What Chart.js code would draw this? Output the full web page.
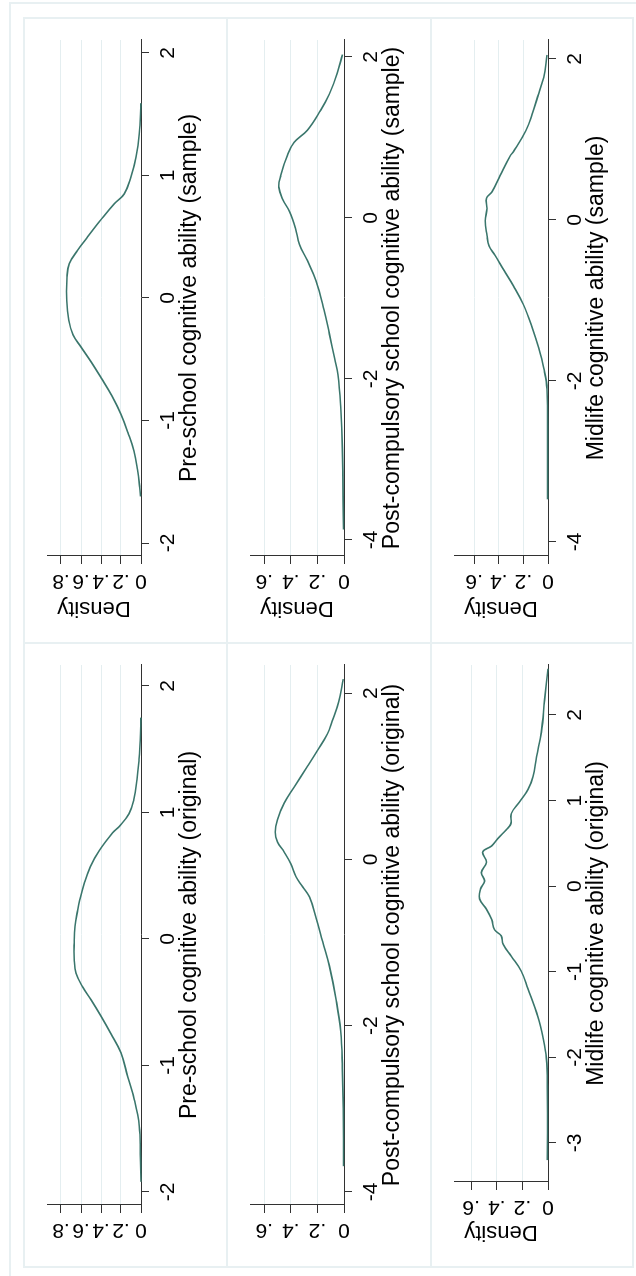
<!DOCTYPE html>
<html>
<head>
<meta charset="utf-8">
<script src="https://cdn.jsdelivr.net/npm/chart.js@4.4.1/dist/chart.umd.min.js"></script>
<style>
  html, body { margin: 0; padding: 0; background: #fff; overflow: hidden; width: 636px; height: 1276px; }
  /* the combined figure is laid out landscape and turned a quarter turn */
  #sheet { position: absolute; left: 0; top: 0; width: 1276px; height: 636px; background: #fff;
           transform-origin: 0 0; transform: translate(0, 1276px) rotate(-90deg); }
  .rule { position: absolute; background: rgb(232, 240, 242); }
  .panel { position: absolute; width: 624px; height: 204px; }
</style>
</head>
<body>
<div id="sheet"></div>
<script>
// ---- kernel density estimates (ability value, density) ----
const preOrigAbility = [-1.92, -1.70, -1.48, -1.27, -1.09, -0.90, -0.75, -0.61, -0.48, -0.38, -0.27, -0.17, -0.03, 0.10, 0.23, 0.31, 0.44, 0.57, 0.70, 0.84, 0.89, 0.99, 1.10, 1.26, 1.42, 1.57, 1.75];
const preOrigDensity = [0.000, 0.006, 0.017, 0.067, 0.133, 0.200, 0.300, 0.400, 0.500, 0.583, 0.650, 0.667, 0.668, 0.660, 0.633, 0.612, 0.567, 0.507, 0.417, 0.283, 0.217, 0.120, 0.073, 0.040, 0.020, 0.007, 0.001];

const preSampAbility = [-1.62, -1.55, -1.40, -1.25, -1.10, -0.95, -0.80, -0.65, -0.52, -0.40, -0.30, -0.18, -0.02, 0.17, 0.28, 0.39, 0.50, 0.64, 0.77, 0.85, 0.99, 1.15, 1.34, 1.59];
const preSampDensity = [0.005, 0.012, 0.035, 0.070, 0.130, 0.200, 0.290, 0.400, 0.500, 0.600, 0.680, 0.723, 0.743, 0.740, 0.717, 0.633, 0.533, 0.400, 0.267, 0.167, 0.100, 0.050, 0.017, 0.001];

const postOrigAbility = [-3.69, -3.00, -2.51, -2.07, -1.68, -1.28, -0.99, -0.70, -0.45, -0.33, -0.21, -0.05, 0.09, 0.21, 0.33, 0.48, 0.68, 0.87, 1.12, 1.31, 1.51, 1.66, 1.90, 2.17];
const postOrigDensity = [0.004, 0.005, 0.012, 0.025, 0.060, 0.110, 0.160, 0.210, 0.260, 0.310, 0.360, 0.400, 0.450, 0.500, 0.517, 0.500, 0.450, 0.375, 0.275, 0.200, 0.125, 0.090, 0.040, 0.005];

const postSampAbility = [-3.87, -2.86, -2.35, -1.95, -1.75, -1.44, -1.14, -0.78, -0.53, -0.33, -0.13, 0.08, 0.23, 0.38, 0.53, 0.78, 0.94, 1.09, 1.34, 1.54, 1.80, 2.03];
const postSampDensity = [0.004, 0.012, 0.025, 0.045, 0.070, 0.110, 0.150, 0.210, 0.275, 0.335, 0.365, 0.410, 0.460, 0.490, 0.475, 0.425, 0.375, 0.275, 0.175, 0.110, 0.050, 0.012];

const midOrigAbility = [-3.20, -2.34, -2.01, -1.77, -1.53, -1.20, -0.99, -0.82, -0.68, -0.58, -0.51, -0.39, -0.27, -0.15, -0.03, 0.06, 0.16, 0.28, 0.40, 0.47, 0.56, 0.66, 0.73, 0.85, 0.99, 1.13, 1.28, 1.51, 1.80, 2.18, 2.54];
const midOrigDensity = [0.005, 0.005, 0.013, 0.039, 0.078, 0.156, 0.210, 0.286, 0.350, 0.365, 0.417, 0.440, 0.480, 0.534, 0.526, 0.495, 0.520, 0.480, 0.510, 0.440, 0.390, 0.325, 0.290, 0.286, 0.220, 0.156, 0.117, 0.090, 0.052, 0.026, 0.000];

const midSampAbility = [-3.47, -2.86, -2.10, -1.84, -1.59, -1.33, -1.05, -0.82, -0.62, -0.44, -0.32, -0.19, -0.01, 0.14, 0.27, 0.35, 0.55, 0.80, 0.85, 1.11, 1.31, 1.57, 1.77, 2.05];
const midSampDensity = [0.003, 0.003, 0.008, 0.035, 0.076, 0.130, 0.200, 0.280, 0.360, 0.430, 0.480, 0.496, 0.510, 0.496, 0.500, 0.455, 0.390, 0.306, 0.280, 0.180, 0.130, 0.076, 0.035, 0.008];

// ---- axis ticks and labels ----
const preTicks = [-2, -1, 0, 1, 2];
const preTickLabels = ['-2', '-1', '0', '1', '2'];
const postTicks = [-4, -2, 0, 2];
const postTickLabels = ['-4', '-2', '0', '2'];
const midOrigTicks = [-3, -2, -1, 0, 1, 2];
const midOrigTickLabels = ['-3', '-2', '-1', '0', '1', '2'];
const midSampTicks = [-4, -2, 0, 2];
const midSampTickLabels = ['-4', '-2', '0', '2'];
const densityTicksWide = [0, 0.2, 0.4, 0.6, 0.8];
const densityLabelsWide = ['0', '.2', '.4', '.6', '.8'];
const densityTicks = [0, 0.2, 0.4, 0.6];
const densityLabels = ['0', '.2', '.4', '.6'];

const FONT = "'Liberation Sans', Arial, sans-serif";
const CURVE = 'rgb(58, 118, 108)';
const GRID = 'rgb(228, 238, 240)';
const AXIS = 'rgb(50, 50, 50)';

const sheet = document.getElementById('sheet');

function rule(x, y, w, h) {
  const d = document.createElement('div');
  d.className = 'rule';
  Object.assign(d.style, { left: x + 'px', top: y + 'px', width: w + 'px', height: h + 'px' });
  sheet.appendChild(d);
}

// outer frame and panel frames
rule(-20, 9, 1293, 2);
rule(1272, 9, 2, 700);
[23, 226, 430, 632].forEach(y => rule(8, y, 1251, 2));
[8, 632, 1257].forEach(x => rule(x, 24, 2, 609));

function zip(xs, ys) { return xs.map((x, i) => ({ x: x, y: ys[i] })); }

function panel(p) {
  const c = document.createElement('canvas');
  c.className = 'panel';
  c.width = 624; c.height = 204;
  c.style.left = p.left + 'px';
  c.style.top = p.top + 'px';
  sheet.appendChild(c);

  new Chart(c, {
    type: 'scatter',
    data: {
      datasets: [{
        data: zip(p.ability, p.density),
        showLine: true,
        borderColor: CURVE,
        borderWidth: 1.6,
        pointRadius: 0,
        tension: 0.4,
        fill: false,
        clip: false
      }]
    },
    options: {
      responsive: false,
      animation: false,
      events: [],
      layout: { autoPadding: false, padding: { left: 0, top: 23, right: p.padRight, bottom: 0 } },
      plugins: { legend: { display: false }, tooltip: { enabled: false } },
      scales: {
        x: {
          type: 'linear', position: 'bottom', min: p.xMin, max: p.xMax,
          afterBuildTicks: s => { s.ticks = p.xTicks.map(v => ({ value: v })); },
          afterFit: s => { s.height = 87; },
          grid: { drawOnChartArea: false, drawTicks: true, tickLength: 8, tickColor: AXIS, tickWidth: 1 },
          border: { display: true, color: AXIS, width: 1 },
          ticks: {
            autoSkip: false, minRotation: 0, maxRotation: 0, padding: 7, color: '#000',
            font: { family: FONT, size: 21 },
            callback: (v, i) => p.xLabels[i]
          },
          title: {
            display: true, text: p.title, color: '#000',
            font: { family: FONT, size: 23 }, padding: { top: 0, bottom: 25 }
          }
        },
        y: {
          type: 'linear', position: 'left', min: 0, max: p.yMax,
          afterBuildTicks: s => { s.ticks = p.yTicks.map(v => ({ value: v })); },
          afterFit: s => { s.width = p.yWidth; },
          grid: {
            color: ctx => (ctx.tick && ctx.tick.value === 0) ? 'rgba(0,0,0,0)' : GRID,
            lineWidth: 1, drawTicks: true, tickLength: 8, tickColor: AXIS, tickWidth: 1
          },
          border: { display: true, color: AXIS, width: 1 },
          ticks: {
            autoSkip: false, minRotation: 90, maxRotation: 90, crossAlign: 'center', padding: 8,
            color: '#000', font: { family: FONT, size: 21 },
            callback: (v, i) => p.yLabels[i]
          },
          title: {
            display: p.densityTitle, text: 'Density', color: '#000',
            font: { family: FONT, size: 22 }, padding: { top: 22, bottom: 0 }
          }
        }
      }
    }
  });
}

// left column: original scores; right column: analysis sample
panel({ left: 9, top: 24, ability: preOrigAbility, density: preOrigDensity,
        xMin: -2.103, xMax: 2.166, xTicks: preTicks, xLabels: preTickLabels,
        yMax: 0.94, yTicks: densityTicksWide, yLabels: densityLabelsWide,
        yWidth: 62, padRight: 22, densityTitle: false,
        title: 'Pre-school cognitive ability (original)' });
panel({ left: 9, top: 227, ability: postOrigAbility, density: postOrigDensity,
        xMin: -4.157, xMax: 2.34, xTicks: postTicks, xLabels: postTickLabels,
        yMax: 0.707, yTicks: densityTicks, yLabels: densityLabels,
        yWidth: 62, padRight: 22, densityTitle: false,
        title: 'Post-compulsory school cognitive ability (original)' });
panel({ left: 9, top: 431, ability: midOrigAbility, density: midOrigDensity,
        xMin: -3.456, xMax: 2.584, xTicks: midOrigTicks, xLabels: midOrigTickLabels,
        yMax: 0.734, yTicks: densityTicks, yLabels: densityLabels,
        yWidth: 85, padRight: 22, densityTitle: true,
        title: 'Midlife cognitive ability (original)' });
panel({ left: 633, top: 24, ability: preSampAbility, density: preSampDensity,
        xMin: -2.106, xMax: 2.106, xTicks: preTicks, xLabels: preTickLabels,
        yMax: 0.94, yTicks: densityTicksWide, yLabels: densityLabelsWide,
        yWidth: 87, padRight: 21, densityTitle: true,
        title: 'Pre-school cognitive ability (sample)' });
panel({ left: 633, top: 227, ability: postSampAbility, density: postSampDensity,
        xMin: -4.199, xMax: 2.211, xTicks: postTicks, xLabels: postTickLabels,
        yMax: 0.707, yTicks: densityTicks, yLabels: densityLabels,
        yWidth: 87, padRight: 21, densityTitle: true,
        title: 'Post-compulsory school cognitive ability (sample)' });
panel({ left: 633, top: 431, ability: midSampAbility, density: midSampDensity,
        xMin: -4.174, xMax: 2.236, xTicks: midSampTicks, xLabels: midSampTickLabels,
        yMax: 0.764, yTicks: densityTicks, yLabels: densityLabels,
        yWidth: 87, padRight: 21, densityTitle: true,
        title: 'Midlife cognitive ability (sample)' });
</script>
</body>
</html>
